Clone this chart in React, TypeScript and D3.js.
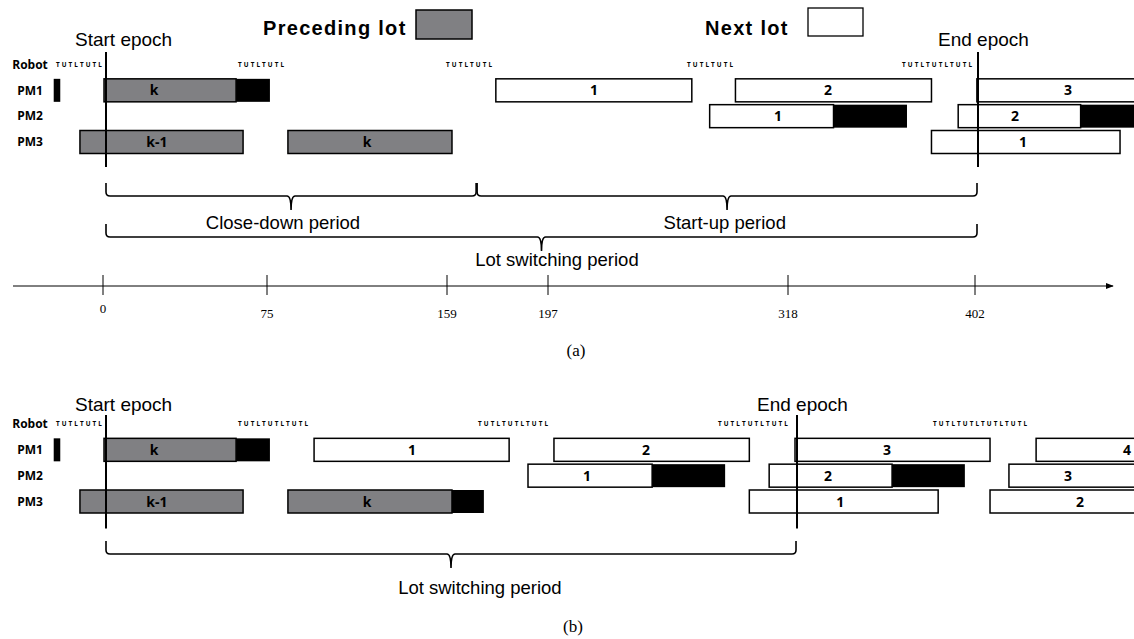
import * as d3 from 'd3'

// time axis: the drawing is not to scale, so the tick values map piecewise
const TICKS = [0, 75, 159, 197, 318, 402]
const TICK_PX = [104, 268, 448, 549, 789, 976]

const ROWS = ['Robot', 'PM1', 'PM2', 'PM3']

type Bar = { row: string; start: number; end: number; kind: 'prev' | 'next' | 'block'; label?: string; at?: number }
type Robot = { at: number; text: string }
type Brace = { from: number; to: number; label: string; labelAt?: number }

// (a) lot switching with close-down / start-up
const barsA: Bar[] = [
  { row: 'PM1', start: -23, end: -20, kind: 'block' },
  { row: 'PM1', start: 0, end: 60.4, kind: 'prev', label: 'k', at: 22.9 },
  { row: 'PM1', start: 60.4, end: 75.9, kind: 'block' },
  { row: 'PM1', start: 177, end: 269, kind: 'next', label: '1', at: 219.7 },
  { row: 'PM1', start: 291, end: 382, kind: 'next', label: '2', at: 335.5 },
  { row: 'PM1', start: 402.4, end: 480, kind: 'next', label: '3', at: 443.3 },
  { row: 'PM2', start: 278, end: 338, kind: 'next', label: '1', at: 312.5 },
  { row: 'PM2', start: 338, end: 371, kind: 'block' },
  { row: 'PM2', start: 394, end: 449, kind: 'next', label: '2', at: 419.5 },
  { row: 'PM2', start: 449, end: 480, kind: 'block' },
  { row: 'PM3', start: -11, end: 63.6, kind: 'prev', label: 'k-1', at: 24.2 },
  { row: 'PM3', start: 84.3, end: 160.5, kind: 'prev', label: 'k', at: 121.2 },
  { row: 'PM3', start: 382, end: 466.7, kind: 'next', label: '1', at: 423.1 },
]

const robotA: Robot[] = [
  { at: -22, text: 'TUTLTUTL' },
  { at: 61.3, text: 'TUTLTUTL' },
  { at: 158.1, text: 'TUTLTUTL' },
  { at: 266.6, text: 'TUTLTUTL' },
  { at: 368.8, text: 'TUTLTUTLTUTL' },
]

const epochsA = [0, 402]

const bracesA1: Brace[] = [
  { from: 0, to: 169.2, label: 'Close-down period', labelAt: 82 },
  { from: 169.2, to: 402, label: 'Start-up period' },
]
const bracesA2: Brace[] = [{ from: 0, to: 402, label: 'Lot switching period' }]

// (b) lot switching without idle
const barsB: Bar[] = [
  { row: 'PM1', start: -23, end: -20, kind: 'block' },
  { row: 'PM1', start: 0, end: 60.4, kind: 'prev', label: 'k', at: 22.9 },
  { row: 'PM1', start: 60.4, end: 75.9, kind: 'block' },
  { row: 'PM1', start: 96.5, end: 182, kind: 'next', label: '1', at: 142.2 },
  { row: 'PM1', start: 199.5, end: 298, kind: 'next', label: '2', at: 245.9 },
  { row: 'PM1', start: 320.7, end: 408.3, kind: 'next', label: '3', at: 362 },
  { row: 'PM1', start: 429, end: 480, kind: 'next', label: '4', at: 469.8 },
  { row: 'PM2', start: 189.1, end: 249, kind: 'next', label: '1', at: 216.2 },
  { row: 'PM2', start: 249, end: 285.8, kind: 'block' },
  { row: 'PM2', start: 308, end: 364.3, kind: 'next', label: '2', at: 335.5 },
  { row: 'PM2', start: 364.3, end: 397, kind: 'block' },
  { row: 'PM2', start: 416.8, end: 480, kind: 'next', label: '3', at: 443.3 },
  { row: 'PM3', start: -11, end: 63.6, kind: 'prev', label: 'k-1', at: 24.2 },
  { row: 'PM3', start: 84.3, end: 160.5, kind: 'prev', label: 'k', at: 121.2 },
  { row: 'PM3', start: 160.5, end: 172.5, kind: 'block' },
  { row: 'PM3', start: 298, end: 385, kind: 'next', label: '1', at: 341 },
  { row: 'PM3', start: 408.3, end: 480, kind: 'next', label: '2', at: 448.7 },
]

const robotB: Robot[] = [
  { at: -22, text: 'TUTLTUTL' },
  { at: 61.3, text: 'TUTLTUTLTUTL' },
  { at: 170.3, text: 'TUTLTUTLTUTL' },
  { at: 282.2, text: 'TUTLTUTLTUTL' },
  { at: 382.7, text: 'TUTLTUTLTUTLTUTL' },
]

const epochsB = [0, 320.7]
const bracesB: Brace[] = [{ from: 0, to: 320.7, label: 'Lot switching period', labelAt: 171 }]

const SANS = '"Liberation Sans", Arial, sans-serif'
const BOLD = '"Open Sans", "Noto Sans", sans-serif'
const SERIF = '"Liberation Serif", "Times New Roman", serif'

const FILL = { prev: '#808083', next: '#ffffff', block: '#000000' }

const x = d3.scaleLinear().domain(TICKS).range(TICK_PX)
const row = d3.scalePoint<string>().domain(ROWS).range([64.5, 142])
const BAR_H = 23

function bracePath(x1: number, x2: number, y: number, up = 13, down = 14) {
  const xm = (x1 + x2) / 2
  return `M${x1},${y - up} L${x1},${y - 4} Q${x1},${y} ${x1 + 4},${y} L${xm - 4},${y} Q${xm},${y} ${xm},${y + down}` +
    ` Q${xm},${y} ${xm + 4},${y} L${x2 - 4},${y} Q${x2},${y} ${x2},${y - 4} L${x2},${y - up}`
}

function Gantt({ bars, robot, epochs, dy, epochTop, epochBottom, titleY }: {
  bars: Bar[]; robot: Robot[]; epochs: number[]; dy: number; epochTop: number; epochBottom: number; titleY: number
}) {
  return (
    <g transform={`translate(0,${dy})`}>
      {ROWS.map(r => (
        <text key={r} x={30} y={row(r)!} dy="0.35em" textAnchor="middle" fontFamily={BOLD} fontWeight={700} fontSize={12}>{r}</text>
      ))}
      {robot.map((d, i) => (
        <text key={i} x={x(d.at)} y={row('Robot')! + 2} fontFamily={BOLD} fontWeight={700} fontSize={6.3} letterSpacing={2.1}>{d.text}</text>
      ))}
      {bars.map((d, i) => (
        <rect key={i} x={x(d.start)} y={row(d.row)! - BAR_H / 2} width={x(d.end) - x(d.start)} height={BAR_H}
          fill={FILL[d.kind]} stroke={d.kind === 'block' ? 'none' : '#000'} strokeWidth={1.5} />
      ))}
      {bars.filter(d => d.label).map((d, i) => (
        <text key={i} x={x(d.at ?? (d.start + d.end) / 2)} y={row(d.row)!} dy="0.36em" textAnchor="middle"
          fontFamily={BOLD} fontWeight={700} fontSize={14}>{d.label}</text>
      ))}
      {epochs.map((e, i) => (
        <line key={i} x1={x(e) + 2} x2={x(e) + 2} y1={epochTop} y2={epochBottom} stroke="#000" strokeWidth={2} />
      ))}
      <text x={75} y={titleY} fontFamily={SANS} fontSize={19}>Start epoch</text>
      <text x={x(epochs[1]) - 38} y={titleY} fontFamily={SANS} fontSize={19}>End epoch</text>
    </g>
  )
}

function Braces({ braces, y, textY }: { braces: Brace[]; y: number; textY: number }) {
  return (
    <g>
      {braces.map((b, i) => (
        <g key={i}>
          <path d={bracePath(x(b.from) + 2, x(b.to) + 1, y)} fill="none" stroke="#000" strokeWidth={1.6} />
          <text x={x(b.labelAt ?? (b.from + b.to) / 2)} y={textY} textAnchor="middle" fontFamily={SANS} fontSize={18.5}>{b.label}</text>
        </g>
      ))}
    </g>
  )
}

export default function App() {
  const axisY = 286
  return (
    <svg width={1134} height={639} style={{ position: 'absolute', left: 0, top: 0, background: '#fff' }}>
      <defs>
        <marker id="arrow" viewBox="0 0 10 10" refX={9} refY={5} markerWidth={8} markerHeight={8} orient="auto">
          <path d="M0,1 L10,5 L0,9 Z" fill="#000" />
        </marker>
      </defs>

      {/* legend */}
      <text x={263} y={35} fontFamily={SANS} fontWeight={700} fontSize={20} letterSpacing={1.3}>Preceding lot</text>
      <rect x={416} y={10} width={56} height={29} fill={FILL.prev} stroke="#000" strokeWidth={1.5} />
      <text x={705} y={35} fontFamily={SANS} fontWeight={700} fontSize={20} letterSpacing={1.3}>Next lot</text>
      <rect x={808} y={8} width={55} height={28} fill="#fff" stroke="#000" strokeWidth={1.3} />

      {/* (a) */}
      <Gantt bars={barsA} robot={robotA} epochs={epochsA} dy={0} epochTop={52} epochBottom={167} titleY={46} />
      <Braces braces={bracesA1} y={196} textY={229} />
      <Braces braces={bracesA2} y={237} textY={266} />

      <line x1={13} x2={1113} y1={axisY} y2={axisY} stroke="#000" strokeWidth={1} markerEnd="url(#arrow)" />
      {TICKS.map(t => (
        <g key={t}>
          <line x1={x(t) - 1} x2={x(t) - 1} y1={axisY - 11} y2={axisY + 9} stroke="#000" strokeWidth={1} />
          <text x={x(t) - 1} y={t === 0 ? axisY + 27 : axisY + 32} textAnchor="middle" fontFamily={SERIF} fontSize={13}>{t}</text>
        </g>
      ))}
      <text x={576} y={356} textAnchor="middle" fontFamily={SERIF} fontSize={17}>(a)</text>

      {/* (b) */}
      <Gantt bars={barsB} robot={robotB} epochs={epochsB} dy={359.5} epochTop={55.5} epochBottom={169} titleY={51.5} />
      <Braces braces={bracesB} y={554} textY={594} />
      <text x={573} y={632} textAnchor="middle" fontFamily={SERIF} fontSize={17}>(b)</text>
    </svg>
  )
}
